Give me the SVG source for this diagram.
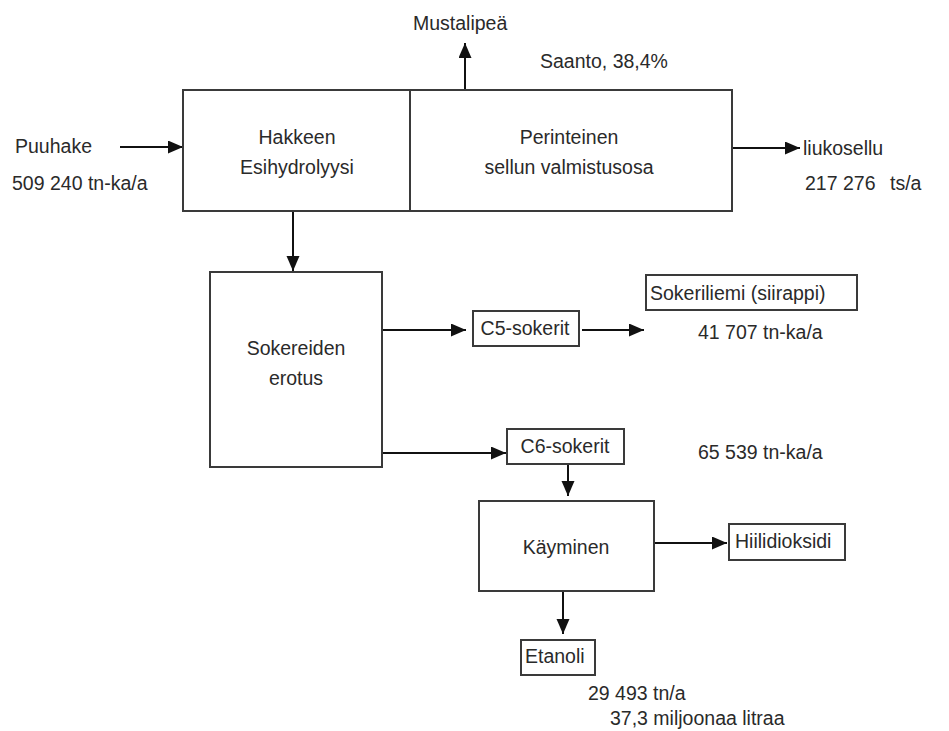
<svg xmlns="http://www.w3.org/2000/svg" width="949" height="731" viewBox="0 0 949 731">
<style>
.box{fill:#fff;stroke:#3a3a3a;stroke-width:2}
.t{font-family:"Liberation Sans",Arial,sans-serif;font-size:19.5px;fill:#2a2a2a}
.m{text-anchor:middle}
.c{stroke:#111;stroke-width:2;fill:none;marker-end:url(#ah)}
</style>
<defs>
<marker id="ah" markerUnits="userSpaceOnUse" markerWidth="16" markerHeight="14" refX="15" refY="6.5" orient="auto">
<path d="M0,0 L15,6.5 L0,13 Z" fill="#111"/>
</marker>
</defs>
<rect width="949" height="731" fill="#fff"/>
<g id="connectors">
<line class="c" x1="120" y1="147" x2="183" y2="147"/>
<line class="c" x1="465" y1="90" x2="465" y2="43"/>
<line class="c" x1="732" y1="148" x2="800" y2="148"/>
<line class="c" x1="293" y1="211" x2="293" y2="271"/>
<line class="c" x1="382" y1="330" x2="466" y2="330"/>
<line class="c" x1="582" y1="330" x2="644" y2="330"/>
<line class="c" x1="382" y1="453" x2="506" y2="453"/>
<line class="c" x1="568" y1="465" x2="568" y2="496"/>
<line class="c" x1="654" y1="543" x2="727" y2="543"/>
<line class="c" x1="563" y1="592" x2="563" y2="634"/>
</g>
<g id="hakkeen">
<rect class="box" x="183" y="90" width="227" height="121"/>
<text class="t m" x="297" y="144">Hakkeen</text>
<text class="t m" x="297" y="174">Esihydrolyysi</text>
</g>
<g id="perinteinen">
<rect class="box" x="410" y="90" width="322" height="121"/>
<text class="t m" x="569" y="144">Perinteinen</text>
<text class="t m" x="569" y="174">sellun valmistusosa</text>
</g>
<g id="sokereiden">
<rect class="box" x="210" y="272" width="172" height="195"/>
<text class="t m" x="296" y="355">Sokereiden</text>
<text class="t m" x="296" y="385">erotus</text>
</g>
<g id="c5">
<rect class="box" x="473" y="311" width="106" height="35"/>
<text class="t m" x="525" y="335">C5-sokerit</text>
</g>
<g id="sokeriliemi">
<rect class="box" x="646" y="275" width="211" height="35"/>
<text class="t" x="650" y="300">Sokeriliemi (siirappi)</text>
</g>
<g id="c6">
<rect class="box" x="507" y="429" width="117" height="35"/>
<text class="t m" x="565" y="453">C6-sokerit</text>
</g>
<g id="kayminen">
<rect class="box" x="479" y="501" width="175" height="90"/>
<text class="t m" x="566" y="554">Käyminen</text>
</g>
<g id="hiilidioksidi">
<rect class="box" x="729" y="524" width="116" height="36"/>
<text class="t" x="735" y="548">Hiilidioksidi</text>
</g>
<g id="etanoli">
<rect class="box" x="521" y="640" width="74" height="35"/>
<text class="t" x="525" y="663">Etanoli</text>
</g>
<g id="labels">
<text class="t" x="15" y="153">Puuhake</text>
<text class="t" x="12" y="190">509 240 tn-ka/a</text>
<text class="t" x="413" y="30">Mustalipeä</text>
<text class="t" x="540" y="68">Saanto, 38,4%</text>
<text class="t" x="803" y="155">liukosellu</text>
<text class="t" x="805" y="190">217 276</text>
<text class="t" x="890" y="190">ts/a</text>
<text class="t" x="698" y="339">41 707 tn-ka/a</text>
<text class="t" x="698" y="459">65 539 tn-ka/a</text>
<text class="t" x="588" y="700">29 493 tn/a</text>
<text class="t" x="610" y="725">37,3 miljoonaa litraa</text>
</g>
</svg>
